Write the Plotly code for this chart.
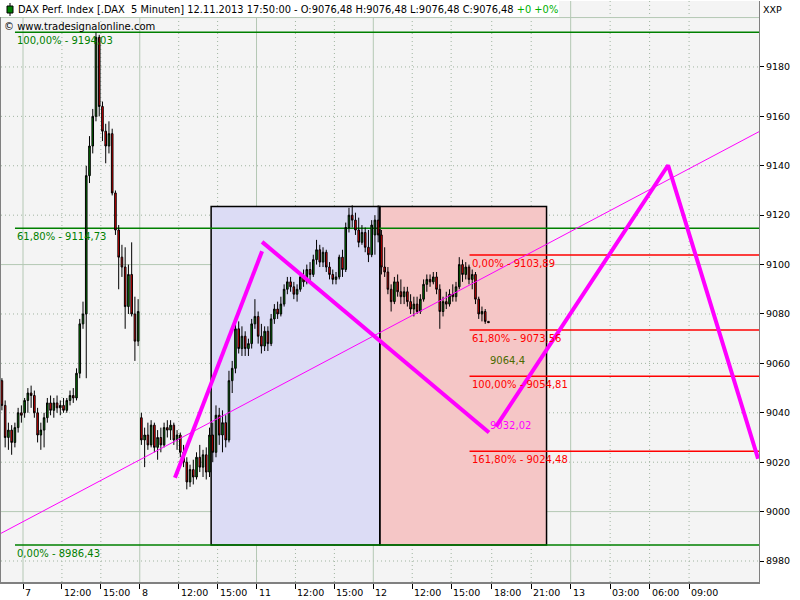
import plotly.graph_objects as go

# ---------------- data ----------------
DAY_LEN = 8.875  # plot-hours occupied by one trading session (9:00 - ~17:55)

session_day_labels = ["7", "8", "11", "12"]
session_hour_labels = ["12:00", "15:00"]
session_hour_minutes = [180, 360]
future_labels = ["18:00", "21:00", "13", "03:00", "06:00", "09:00"]
future_hours = [9, 12, 15, 18, 21, 24]          # hours after 12.11. 09:00
major_future = ["13"]

y_ticks = [8980, 9000, 9020, 9040, 9060, 9080, 9100, 9120, 9140, 9160, 9180]
y_major = [9000, 9100, 9200]

# 15-minute candles, slot index from 09:00
d6_slots = [29, 30, 31, 32, 33, 34, 35]
d6_o = [9053, 9043, 9030, 9033, 9028, 9034, 9040]
d6_h = [9054, 9045, 9036, 9035, 9036, 9042, 9043]
d6_l = [9041, 9026, 9025, 9023, 9026, 9032, 9036]
d6_c = [9043, 9030, 9033, 9028, 9034, 9040, 9039]

d7_o = [9040, 9045, 9048, 9047, 9040, 9031, 9033, 9038, 9044, 9041, 9044, 9042, 9043, 9041, 9045, 9047, 9046, 9056,
        9076, 9080, 9136, 9148, 9160, 9192, 9164, 9154, 9148, 9153, 9129, 9114, 9103, 9099, 9083, 9096, 9080, 9069]
d7_h = [9046, 9050, 9051, 9049, 9042, 9036, 9040, 9046, 9047, 9046, 9047, 9045, 9046, 9046, 9049, 9050, 9058, 9078,
        9085, 9140, 9152, 9163, 9194.03, 9193, 9166, 9157, 9158, 9155, 9130, 9116, 9108, 9107, 9100, 9109, 9087, 9086]
d7_l = [9038, 9040, 9042, 9038, 9028, 9025, 9026, 9036, 9039, 9038, 9040, 9039, 9040, 9040, 9043, 9044, 9045, 9054,
        9074, 9054, 9133, 9145, 9158, 9160, 9150, 9141, 9145, 9128, 9112, 9090, 9095, 9074, 9080, 9079, 9061, 9067]
d7_c = [9045, 9048, 9047, 9040, 9031, 9033, 9038, 9044, 9041, 9044, 9042, 9043, 9041, 9045, 9047, 9046, 9056, 9076,
        9080, 9136, 9148, 9160, 9192, 9164, 9154, 9148, 9153, 9129, 9114, 9103, 9099, 9083, 9096, 9080, 9069, 9081]

d8_o = [9038, 9029, 9031, 9027, 9035, 9026, 9030, 9027, 9034, 9033, 9035, 9029, 9031, 9024, 9020, 9012, 9017, 9014,
        9022, 9018, 9023, 9016, 9031, 9024, 9039, 9031, 9036, 9029, 9053, 9058, 9074, 9066, 9071, 9066, 9068, 9076]
d8_h = [9040, 9034, 9036, 9037, 9036, 9033, 9034, 9036, 9037, 9037, 9036, 9033, 9032, 9027, 9022, 9019, 9021, 9024,
        9027, 9025, 9026, 9034, 9036, 9043, 9042, 9041, 9039, 9057, 9061, 9077, 9077, 9075, 9073, 9070, 9078, 9086]
d8_l = [9027, 9018, 9025, 9026, 9024, 9021, 9024, 9026, 9030, 9029, 9027, 9025, 9022, 9018, 9009, 9010, 9011, 9013,
        9016, 9014, 9013, 9014, 9020, 9022, 9027, 9024, 9026, 9028, 9048, 9056, 9064, 9063, 9063, 9063, 9066, 9074]
d8_c = [9029, 9031, 9027, 9035, 9026, 9030, 9027, 9034, 9033, 9035, 9029, 9031, 9024, 9020, 9012, 9017, 9014, 9022,
        9018, 9023, 9016, 9031, 9024, 9039, 9031, 9036, 9029, 9053, 9058, 9074, 9066, 9071, 9066, 9068, 9076, 9079]

d11_o = [9079, 9071, 9067, 9073, 9068, 9078, 9082, 9080, 9084, 9090, 9093, 9091, 9088, 9090, 9095, 9093, 9098, 9096,
         9102, 9106, 9101, 9105, 9099, 9096, 9094, 9095, 9103, 9098, 9115, 9120, 9118, 9114, 9109, 9113, 9107, 9104]
d11_h = [9081, 9076, 9075, 9075, 9080, 9084, 9085, 9087, 9092, 9095, 9095, 9093, 9092, 9097, 9098, 9100, 9101, 9104,
         9110, 9108, 9107, 9106, 9101, 9098, 9097, 9104, 9106, 9117, 9123, 9124, 9121, 9119, 9116, 9115, 9114, 9118]
d11_l = [9068, 9064, 9065, 9065, 9067, 9076, 9078, 9079, 9083, 9088, 9089, 9086, 9085, 9089, 9091, 9092, 9093, 9095,
         9100, 9099, 9099, 9097, 9094, 9092, 9092, 9094, 9095, 9097, 9113, 9115, 9112, 9107, 9108, 9105, 9101, 9103]
d11_c = [9071, 9067, 9073, 9068, 9078, 9082, 9080, 9084, 9090, 9093, 9091, 9088, 9090, 9095, 9093, 9098, 9096, 9102,
         9106, 9101, 9105, 9099, 9096, 9094, 9095, 9103, 9098, 9115, 9120, 9118, 9114, 9109, 9113, 9107, 9104, 9116]

d12_o = [9112, 9118, 9112, 9099, 9097, 9090, 9085, 9093, 9089, 9087, 9089, 9085, 9082, 9084, 9081, 9086, 9092, 9094,
         9093, 9095, 9090, 9081, 9085, 9084, 9088, 9087, 9091, 9100, 9096, 9099, 9094, 9096, 9086, 9080, 9081, 9077]
d12_h = [9120, 9124, 9114, 9107, 9099, 9092, 9095, 9096, 9094, 9091, 9091, 9088, 9087, 9087, 9088, 9094, 9096, 9096,
         9097, 9097, 9092, 9087, 9089, 9090, 9092, 9093, 9103, 9102, 9101, 9100, 9098, 9097, 9087, 9083, 9082, 9077]
d12_l = [9104, 9109, 9096, 9095, 9088, 9081, 9084, 9087, 9084, 9084, 9083, 9080, 9079, 9080, 9080, 9085, 9089, 9091,
         9092, 9088, 9074, 9079, 9082, 9083, 9085, 9085, 9090, 9093, 9094, 9092, 9090, 9084, 9078, 9077, 9076, 9076.48]
d12_c = [9118, 9112, 9099, 9097, 9090, 9085, 9093, 9089, 9087, 9089, 9085, 9082, 9084, 9081, 9086, 9092, 9094, 9093,
         9095, 9090, 9081, 9085, 9084, 9088, 9087, 9091, 9100, 9096, 9099, 9094, 9096, 9086, 9080, 9081, 9077, 9076.48]

# Fibonacci tools
green_fib_levels = [9194.03, 9114.73, 8986.43]
green_fib_labels = ["100,00% - 9194,03", "61,80% - 9114,73", "0,00% - 8986,43"]
red_fib_levels = [9103.89, 9073.56, 9054.81, 9024.48]
red_fib_labels = ["0,00% - 9103,89", "61,80% - 9073,56", "100,00% - 9054,81", "161,80% - 9024,48"]

# drawing objects (plot-hour positions / prices)
rect_low, rect_high = 8986.43, 9123.5
trend_x = [-1.672, 55.94]
trend_y = [8991.2, 9153.8]
abcd_x = [11.55, 18.17, None, 18.17, 35.42, None, 35.95, 49.03, 55.87]
abcd_y = [9013.7, 9105.4, None, 9109.2, 9032.02, None, 9034.4, 9140.2, 9021.4]
mid_label, c_label = "9064,4", "9032,02"
mid_value, c_value = 9064.4, 9032.02

title_main = ("DAX Perf. Index [.DAX\u00a0\u00a05 Minuten] 12.11.2013 17:50:00 - "
              "O:9076,48 H:9076,48 L:9076,48 C:9076,48 ")
title_change = "+0 +0%"
copyright_text = "\u00a9 www.tradesignalonline.com"


# ---------------- helpers ----------------
def sess_pos(day_idx, minutes):
    return day_idx * DAY_LEN + minutes / 540.0 * DAY_LEN


def fut_pos(hours):
    return 3 * DAY_LEN + hours


X_RANGE = [-1.672, 55.94]
Y_RANGE = [8971.5, 9206.7]
W, H = 800, 600
ML, MR, MT, MB = 1, 41, 1, 18
PW, PH = W - ML - MR, H - MT - MB


def px_x(px):
    return (px - ML) / PW


def px_y(py):
    return (H - MB - py) / PH


# ---------------- candles ----------------
cx, co, ch, cl, cc = [], [], [], [], []
for s, o, h, l, c in zip(d6_slots, d6_o, d6_h, d6_l, d6_c):
    cx.append(sess_pos(-1, 15 * s + 7.5)); co.append(o); ch.append(h); cl.append(l); cc.append(c)
for di, (O, Hh, L, C) in enumerate([(d7_o, d7_h, d7_l, d7_c), (d8_o, d8_h, d8_l, d8_c),
                                    (d11_o, d11_h, d11_l, d11_c), (d12_o, d12_h, d12_l, d12_c)]):
    for s in range(len(O)):
        cx.append(sess_pos(di, 15 * s + 7.5)); co.append(O[s]); ch.append(Hh[s]); cl.append(L[s]); cc.append(C[s])

fig = go.Figure()
fig.add_trace(go.Candlestick(
    x=cx, open=co, high=ch, low=cl, close=cc,
    increasing=dict(line=dict(color="black", width=1), fillcolor="#008000"),
    decreasing=dict(line=dict(color="black", width=1), fillcolor="#ff0000"),
    whiskerwidth=0, hoverinfo="skip", showlegend=False))

fig.add_trace(go.Scatter(x=trend_x, y=trend_y, mode="lines",
                         line=dict(color="#ff00ff", width=1), hoverinfo="skip", showlegend=False))
fig.add_trace(go.Scatter(x=abcd_x, y=abcd_y, mode="lines", connectgaps=False,
                         line=dict(color="#ff00ff", width=4), hoverinfo="skip", showlegend=False))

# ---------------- shapes ----------------
shapes = []
blue_x0, blue_x1 = sess_pos(1, 330), sess_pos(3, 30)
red_x1 = fut_pos(13 + 10 / 60)
shapes.append(dict(type="rect", xref="x", yref="y", x0=blue_x0, x1=blue_x1, y0=rect_low, y1=rect_high,
                   fillcolor="#dcdcf5", line=dict(width=0), layer="below"))
shapes.append(dict(type="rect", xref="x", yref="y", x0=blue_x1, x1=red_x1, y0=rect_low, y1=rect_high,
                   fillcolor="#f5c6c6", line=dict(width=0), layer="below"))

solid_grid = dict(color="#b4c8b4", width=1)
dot_grid = dict(color="#a0b4a0", width=1, dash="1px,3px")

major_x, minor_x, tick_x, tick_t = [], [], [], []
for di, lab in enumerate(session_day_labels):
    major_x.append(sess_pos(di, 0)); tick_x.append(sess_pos(di, 0)); tick_t.append(lab)
    for hl, hm in zip(session_hour_labels, session_hour_minutes):
        minor_x.append(sess_pos(di, hm)); tick_x.append(sess_pos(di, hm)); tick_t.append(hl)
for fl, fh in zip(future_labels, future_hours):
    tick_x.append(fut_pos(fh)); tick_t.append(fl)
    (major_x if fl in major_future else minor_x).append(fut_pos(fh))

for v in minor_x:
    shapes.append(dict(type="line", xref="x", yref="paper", x0=v, x1=v, y0=0, y1=1, line=dot_grid, layer="below"))
for v in range(8980, 9201, 20):
    if v not in y_major:
        shapes.append(dict(type="line", xref="paper", yref="y", x0=0, x1=1, y0=v, y1=v, line=dot_grid, layer="below"))
for v in major_x:
    shapes.append(dict(type="line", xref="x", yref="paper", x0=v, x1=v, y0=0, y1=1, line=solid_grid, layer="below"))
for v in y_major:
    shapes.append(dict(type="line", xref="paper", yref="y", x0=0, x1=1, y0=v, y1=v, line=solid_grid, layer="below"))

# rectangle outlines
for (x0, x1) in [(blue_x0, blue_x1), (blue_x1, red_x1)]:
    shapes.append(dict(type="rect", xref="x", yref="y", x0=x0, x1=x1, y0=rect_low, y1=rect_high,
                       fillcolor="rgba(0,0,0,0)", line=dict(color="black", width=1.5), layer="below"))

green_x0 = -0.61
red_x0 = sess_pos(3, 445)
for lv in green_fib_levels:
    shapes.append(dict(type="line", xref="x", yref="y", x0=green_x0, x1=X_RANGE[1], y0=lv, y1=lv,
                       line=dict(color="#008000", width=1.5), layer="below"))
for lv in red_fib_levels:
    shapes.append(dict(type="line", xref="x", yref="y", x0=red_x0, x1=X_RANGE[1], y0=lv, y1=lv,
                       line=dict(color="#ff0000", width=1.5), layer="below"))

# title box + icon
shapes.append(dict(type="rect", xref="paper", yref="paper", x0=px_x(0), x1=px_x(559), y0=px_y(17), y1=px_y(0),
                   fillcolor="white", line=dict(width=0), layer="above"))
shapes.append(dict(type="line", xref="paper", yref="paper", x0=px_x(10), x1=px_x(10), y0=px_y(16), y1=px_y(3),
                   line=dict(color="black", width=1), layer="above"))
shapes.append(dict(type="rect", xref="paper", yref="paper", x0=px_x(7), x1=px_x(13), y0=px_y(13), y1=px_y(6),
                   fillcolor="#008000", line=dict(color="black", width=1), layer="above"))

# ---------------- annotations ----------------
FONT = "DejaVu Sans"
ann = []
for lv, t in zip(green_fib_levels, green_fib_labels):
    ann.append(dict(x=green_x0, y=lv, xref="x", yref="y", text=t, showarrow=False, xanchor="left", yanchor="top",
                    yshift=-1, font=dict(family=FONT, size=10, color="#008000")))
for lv, t in zip(red_fib_levels, red_fib_labels):
    ann.append(dict(x=red_x0, y=lv, xref="x", yref="y", text=t, showarrow=False, xanchor="left", yanchor="top",
                    yshift=-1, font=dict(family=FONT, size=10, color="#ff0000")))
ann.append(dict(x=35.34, y=mid_value, xref="x", yref="y", text=mid_label, showarrow=False, xanchor="left",
                yanchor="top", font=dict(family=FONT, size=10, color="#4b6b00")))
ann.append(dict(x=35.34, y=c_value, xref="x", yref="y", text=c_label, showarrow=False, xanchor="left",
                yanchor="bottom", font=dict(family=FONT, size=10, color="#ff00ff")))

for xv, t in zip(tick_x, tick_t):
    ann.append(dict(x=xv, y=px_y(592), xref="x", yref="paper", text=t, showarrow=False, xanchor="left",
                    yanchor="middle", xshift=0, font=dict(family=FONT, size=9.5, color="black")))

ann.append(dict(x=px_x(16), y=px_y(9), xref="paper", yref="paper",
                text=title_main + "<span style='color:#00b000'>" + title_change + "</span>",
                showarrow=False, xanchor="left", yanchor="middle", font=dict(family=FONT, size=9.85, color="black")))
ann.append(dict(x=px_x(2), y=px_y(26), xref="paper", yref="paper", text=copyright_text, showarrow=False,
                xanchor="left", yanchor="middle", font=dict(family=FONT, size=10, color="black")))
ann.append(dict(x=px_x(761), y=px_y(9), xref="paper", yref="paper", text="XXP", showarrow=False,
                xanchor="left", yanchor="middle", font=dict(family=FONT, size=9.5, color="black")))

fig.update_layout(
    width=W, height=H, autosize=False,
    margin=dict(l=ML, r=MR, t=MT, b=MB, pad=0, autoexpand=False),
    paper_bgcolor="white", plot_bgcolor="#f4f4f4",
    showlegend=False, shapes=shapes, annotations=ann, hovermode=False,
    xaxis=dict(range=X_RANGE, rangeslider=dict(visible=False), showgrid=False, zeroline=False,
               tickmode="array", tickvals=tick_x, ticktext=[""] * len(tick_x), ticks="outside", ticklen=5,
               tickcolor="black", showline=True, linecolor="#808080", linewidth=2),
    yaxis=dict(range=Y_RANGE, side="right", showgrid=False, zeroline=False, tickmode="array",
               tickvals=y_ticks, ticktext=[str(v) for v in y_ticks], ticks="outside", ticklen=4,
               tickcolor="black", showline=True, mirror=True, linecolor="#808080", linewidth=1,
               tickfont=dict(family=FONT, size=9.5, color="black")),
)

fig.write_html("out.html", config={"displayModeBar": False, "staticPlot": True},
               post_script="document.body.style.margin='0';document.body.style.overflow='hidden';")
